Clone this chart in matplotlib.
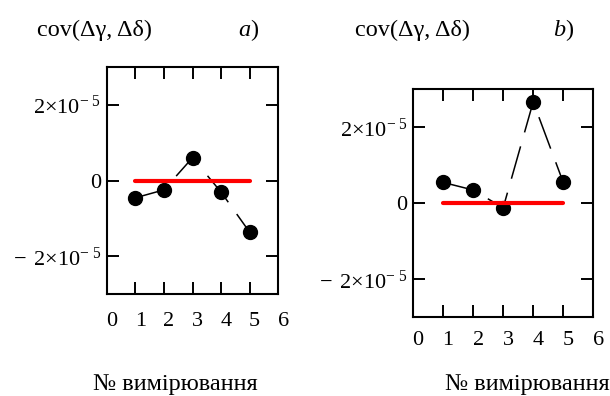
import numpy as np
import matplotlib
matplotlib.use("Agg")
from matplotlib import pyplot as plt
from matplotlib import transforms

plt.rcParams['font.family'] = ['Liberation Serif', 'DejaVu Serif']
plt.rcParams['mathtext.fontset'] = 'custom'
plt.rcParams['mathtext.rm'] = 'Liberation Serif'
plt.rcParams['mathtext.it'] = 'Liberation Serif:italic'
plt.rcParams['mathtext.bf'] = 'Liberation Serif:bold'

# measurement number
meas = [1, 2, 3, 4, 5]
# covariance values (units of 1e-5)
cov_a = [-0.45, -0.24, 0.61, -0.30, -1.36]
cov_b = [0.55, 0.35, -0.12, 2.67, 0.55]
zero_line = [0, 0]
zero_x = [1, 5]

yticks = [-2e-5, 0, 2e-5]
ytick_labels = [r'$-\ \,2×10^{-\ 5}$', '0', r'$2×10^{-\ 5}$']
xticks = [0, 1, 2, 3, 4, 5, 6]
panel_titles = ['cov(Δγ, Δδ)', 'cov(Δγ, Δδ)']
panel_tags = [r'$\mathit{a}$)', r'$\mathit{b}$)']
xlabel = '№ вимірювання'

fig = plt.figure(figsize=(6.1, 3.96), dpi=100)
W, H = 610, 396
# axes boxes in pixels: left, top, right, bottom
boxes = [(106.7, 67.3, 278.3, 294.3), (413.0, 89.3, 593.3, 317.3)]
series = [cov_a, cov_b]
title_x = [36.7, 355]
tag_x = [238, 553]
xlab_x = [93, 445]
tick_pads = [12.5, 10]

for i in range(2):
    l, t, r, b = boxes[i]
    ax = fig.add_axes([l / W, 1 - b / H, (r - l) / W, (b - t) / H])
    y = np.array(series[i]) * 1e-5
    ax.plot(meas, y, color='black', lw=1.1, linestyle=(0, (22, 9.5)),
            marker='o', markersize=10, zorder=2)
    ax.plot(zero_x, zero_line, color='#ff0000', lw=3, solid_capstyle='round', zorder=3)
    ax.set_xlim(0, 6)
    ax.set_ylim(-3e-5, 3e-5)
    ax.set_xticks(xticks)
    ax.set_xticklabels([str(v) for v in xticks])
    ax.set_yticks(yticks)
    ax.set_yticklabels(ytick_labels)
    ax.tick_params(direction='in', length=8.5, width=1.4, top=True, right=True,
                   labelsize=16, colors='black')
    ax.tick_params(axis='y', pad=4)
    ax.tick_params(axis='x', pad=tick_pads[i])
    shift = transforms.ScaledTranslation(5 / 100, 0, fig.dpi_scale_trans)
    for lab in ax.get_xticklabels():
        lab.set_transform(lab.get_transform() + shift)
    for s in ax.spines.values():
        s.set_linewidth(1.5)
    fig.text(title_x[i] / W, 1 - 30 / H, panel_titles[i], fontsize=17.5, va='center', ha='left')
    fig.text(tag_x[i] / W, 1 - 30 / H, panel_tags[i], fontsize=17.5, va='center', ha='left')
    fig.text(xlab_x[i] / W, 6 / H, xlabel, fontsize=17.5, va='baseline', ha='left')

plt.savefig('out.png', dpi=100)
